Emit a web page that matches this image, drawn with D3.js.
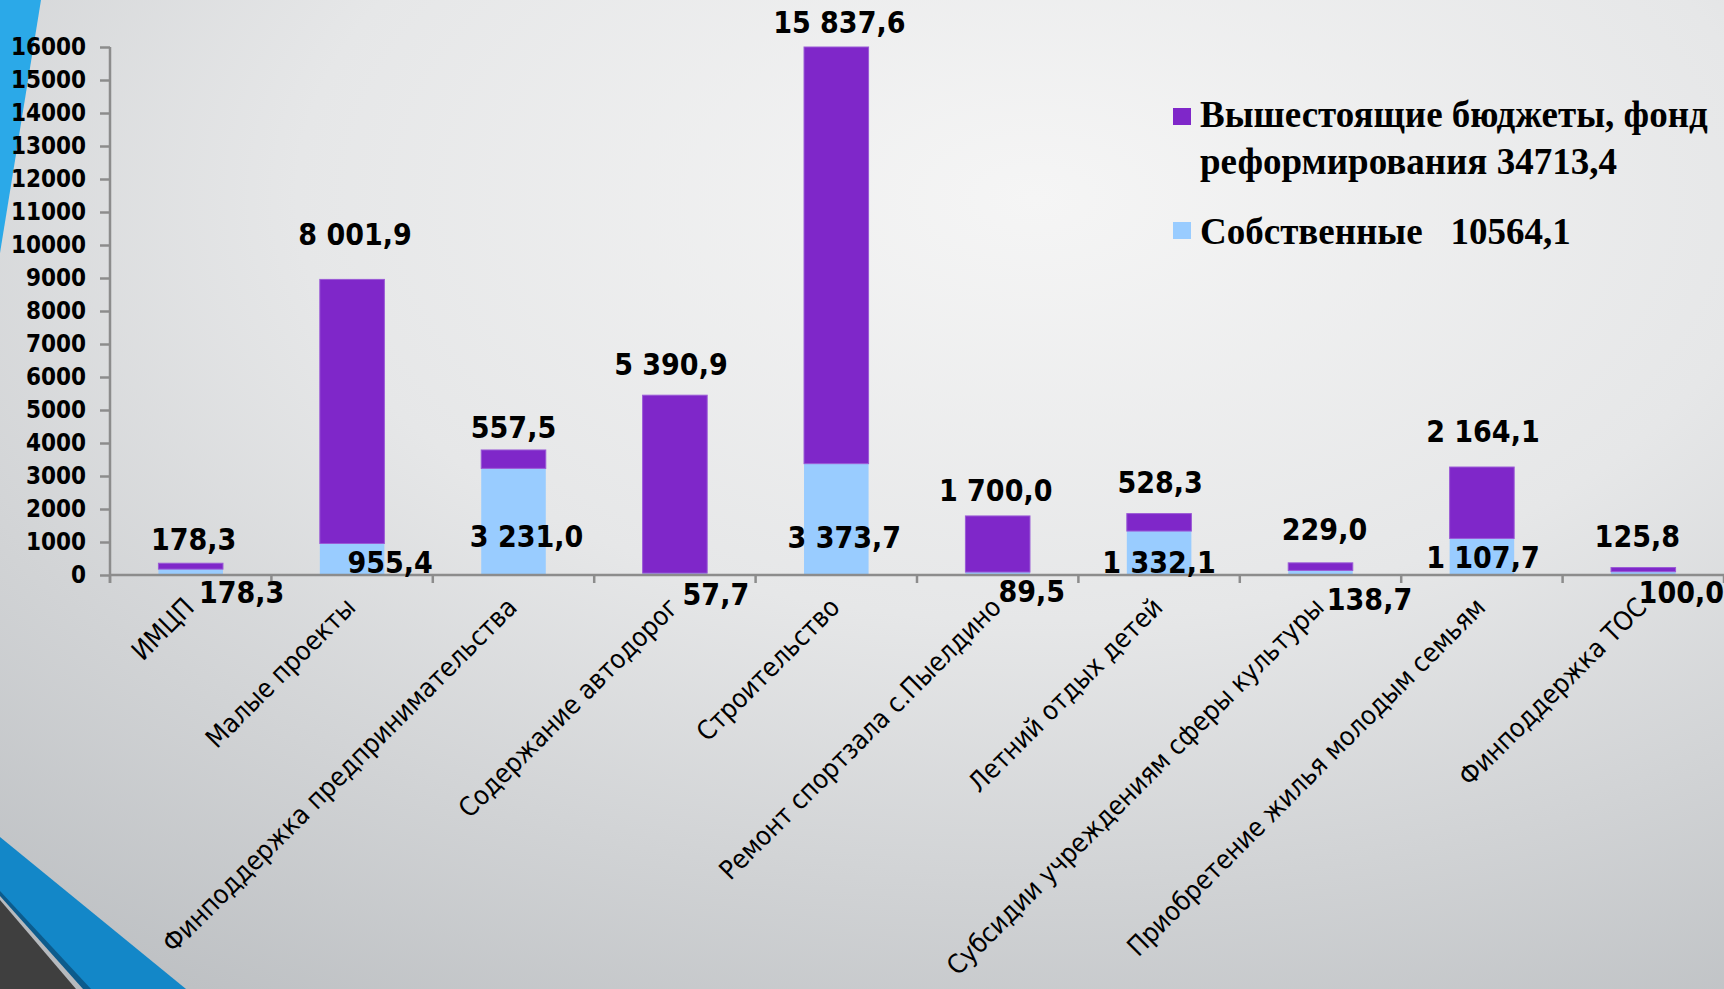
<!DOCTYPE html>
<html><head><meta charset="utf-8">
<script src="https://cdn.jsdelivr.net/npm/d3@7"></script>
<style>html,body{margin:0;padding:0;overflow:hidden;background:#e4e6e8}</style>
</head><body>
<svg id="c" width="1724" height="989"></svg>
<script>
// ---------- data ----------
const categories = ["ИМЦП", "Малые проекты", "Финподдержка предпринимательства", "Содержание автодорог",
  "Строительство", "Ремонт спортзала с.Пыелдино", "Летний отдых детей",
  "Субсидии учреждениям сферы культуры", "Приобретение жилья молодым семьям", "Финподдержка ТОС"];
const ownValues   = [178.3, 955.4, 3231.0, 57.7, 3373.7, 89.5, 1332.1, 138.7, 1107.7, 100.0];
const upperValues = [178.3, 8001.9, 557.5, 5390.9, 15837.6, 1700.0, 528.3, 229.0, 2164.1, 125.8];
const yTickValues = [0, 1000, 2000, 3000, 4000, 5000, 6000, 7000, 8000, 9000, 10000, 11000, 12000, 13000, 14000, 15000, 16000];
const legendUpperLines = ["Вышестоящие бюджеты, фонд", "реформирования 34713,4"];
const legendOwnText = "Собственные\u00a0\u00a0 10564,1";

// label nudges (layout only, px)
const upperLabelDy = [-13, -34, -12, -20, -14, -15, -21, -23, -25, -21];
const upperLabelDx = [3, 3, 0, -4, 3, -2, 1, 4, 1, -6];
const ownLabelDx = [51, 38, 13, 41, 8, 34, 0, 49, 1, 38];
const ownLabelBase = [28, -2, -28, 30, -27, 27, -2, 35, -7, 28];

// ---------- setup ----------
const W = 1724, H = 989;
const svg = d3.select("#c");
const ruLocale = d3.formatLocale({decimal: ",", thousands: " ", grouping: [3], currency: ["", ""]});
const fmt = ruLocale.format(",.1f");
const COND = "'DejaVu Sans Condensed', 'DejaVu Sans', Verdana, sans-serif";

const defs = svg.append("defs");
const rg = defs.append("radialGradient").attr("id", "bg").attr("cx", "0.6").attr("cy", "0.2").attr("r", "0.95");
rg.append("stop").attr("offset", "0").attr("stop-color", "#f5f5f5");
rg.append("stop").attr("offset", "0.45").attr("stop-color", "#e6e7e8");
rg.append("stop").attr("offset", "1").attr("stop-color", "#bdc0c3");
svg.append("rect").attr("width", W).attr("height", H).attr("fill", "url(#bg)");

// decorative shapes
svg.append("path").attr("d", "M0,0 L41,0 L0,253 Z").attr("fill", "#2ba9e8");
svg.append("path").attr("d", "M0,837 L186,989 L0,989 Z").attr("fill", "#1387c8");
svg.append("path").attr("d", "M0,891 L91,989 L0,989 Z").attr("fill", "#0c5b8c");
svg.append("path").attr("d", "M0,896 L83,989 L0,989 Z").attr("fill", "#b7babe");
svg.append("path").attr("d", "M0,900 L76,989 L0,989 Z").attr("fill", "#3f3f3f");

// ---------- scales ----------
const x = d3.scaleBand().domain(categories).range([110, 1724]).paddingInner(0.6).paddingOuter(0.3);
const y = d3.scaleLinear().domain([0, 16000]).range([575, 47]).clamp(true);
const step = x.step();

const rows = categories.map((c, i) => ({cat: c, own: ownValues[i], upper: upperValues[i], i}));
const stack = d3.stack().keys(["own", "upper"])(rows);
const colors = {own: "#99ccff", upper: "#7f27c9"};

// ---------- bars ----------
const gBars = svg.append("g");
stack.forEach(s => {
  gBars.selectAll(null).data(s).enter().append("rect")
    .attr("x", d => x(d.data.cat))
    .attr("width", x.bandwidth())
    .attr("y", d => y(d[1]))
    .attr("height", d => y(d[0]) - y(d[1]))
    .attr("fill", colors[s.key])
    .attr("stroke", s.key === "upper" ? "#9a5ad6" : "none")
    .attr("stroke-width", 1);
});

// ---------- axes ----------
const axisColor = "#8c8c8c";
const gy = svg.append("g").attr("transform", "translate(110,0)")
  .call(d3.axisLeft(y).tickValues(yTickValues).tickFormat(d3.format("d")).tickSize(10).tickPadding(14));
gy.select(".domain").attr("stroke", axisColor).attr("stroke-width", 2.5).attr("d", "M0,47V583");
gy.selectAll(".tick line").attr("stroke", axisColor).attr("stroke-width", 2.5);
gy.selectAll(".tick text").attr("fill", "#000").style("font-family", COND)
  .style("font-size", "24px").style("font-weight", "bold");

const gx = svg.append("g").attr("transform", "translate(0,575)");
gx.append("line").attr("x1", 110).attr("x2", 1724).attr("stroke", axisColor).attr("stroke-width", 2.5);
gx.selectAll(null).data(d3.range(categories.length + 1)).enter().append("line")
  .attr("x1", i => 110 + i * step).attr("x2", i => 110 + i * step)
  .attr("y1", 0).attr("y2", 8).attr("stroke", axisColor).attr("stroke-width", 2.5);

// category labels
svg.append("g").selectAll(null).data(categories).enter().append("text")
  .attr("transform", d => `translate(${x(d) + x.bandwidth() / 2 + 5},${609}) rotate(-45)`)
  .attr("text-anchor", "end")
  .style("font-family", COND).style("font-size", "26.5px").attr("fill", "#000")
  .text(d => d);

// ---------- value labels ----------
const gLab = svg.append("g").style("font-family", COND).style("font-size", "30px")
  .style("font-weight", "bold").attr("fill", "#000").attr("text-anchor", "middle");
rows.forEach((r, i) => {
  const cx = x(r.cat) + x.bandwidth() / 2;
  gLab.append("text").attr("x", cx + upperLabelDx[i]).attr("y", y(r.own + r.upper) + upperLabelDy[i]).text(fmt(r.upper));
  gLab.append("text").attr("x", cx + ownLabelDx[i]).attr("y", y(0) + ownLabelBase[i]).text(fmt(r.own));
});

// ---------- legend ----------
const gLeg = svg.append("g").style("font-family", "'Liberation Serif', 'Times New Roman', serif")
  .style("font-weight", "bold").style("font-size", "37px").attr("fill", "#000");
gLeg.append("rect").attr("x", 1173).attr("y", 108).attr("width", 18).attr("height", 17).attr("fill", colors.upper);
legendUpperLines.forEach((t, k) => gLeg.append("text").attr("x", 1200).attr("y", 127 + k * 47).text(t));
gLeg.append("rect").attr("x", 1173).attr("y", 222).attr("width", 18).attr("height", 17).attr("fill", colors.own);
gLeg.append("text").attr("x", 1200).attr("y", 244).text(legendOwnText);
</script>
</body></html>
